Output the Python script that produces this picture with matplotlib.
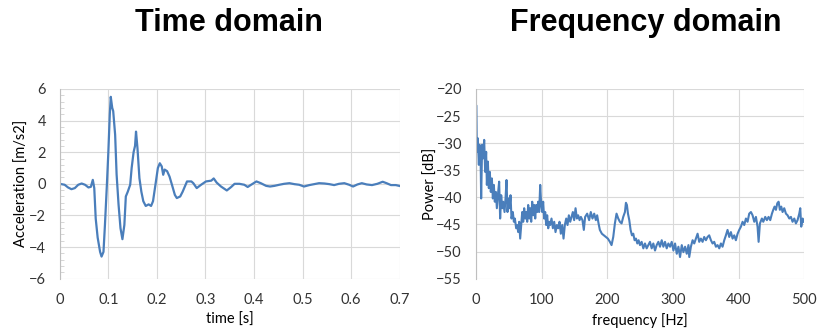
import numpy as np
import matplotlib
matplotlib.use("Agg")
import matplotlib.pyplot as plt
from matplotlib.ticker import MultipleLocator

# time domain trace
t_s = [0.0, 0.01, 0.017, 0.024, 0.031, 0.038, 0.045, 0.052, 0.059, 0.064,
       0.068, 0.071, 0.074, 0.078, 0.083, 0.086, 0.09, 0.093, 0.097, 0.1,
       0.103, 0.105, 0.108, 0.11, 0.114, 0.117, 0.121, 0.125, 0.129, 0.133,
       0.136, 0.14, 0.145, 0.148, 0.152, 0.155, 0.157, 0.16, 0.164, 0.168,
       0.172, 0.177, 0.183, 0.188, 0.192, 0.197, 0.202, 0.206, 0.21, 0.213,
       0.216, 0.221, 0.226, 0.231, 0.237, 0.241, 0.248, 0.253, 0.262, 0.271,
       0.275, 0.282, 0.291, 0.301, 0.312, 0.317, 0.323, 0.332, 0.344, 0.353,
       0.36, 0.37, 0.38, 0.387, 0.394, 0.405, 0.414, 0.425, 0.433, 0.442,
       0.452, 0.462, 0.473, 0.483, 0.493, 0.503, 0.514, 0.524, 0.534, 0.545,
       0.555, 0.565, 0.575, 0.586, 0.596, 0.604, 0.613, 0.622, 0.632, 0.643,
       0.654, 0.665, 0.673, 0.682, 0.692, 0.699]
accel = [0.0, -0.06, -0.23, -0.34, -0.27, -0.06, 0.02, -0.06, -0.23, -0.19,
         0.25, -0.27, -2.2, -3.4, -4.3, -4.6, -4.3, -2.6, -0.06, 2.0,
         4.4, 5.5, 4.8, 4.6, 3.1, 0.6, -1.3, -2.8, -3.5, -2.6,
         -0.8, -0.5, -0.06, 1.0, 2.0, 2.4, 3.3, 2.25, 0.36, -0.5,
         -1.1, -1.4, -1.3, -1.4, -1.1, -0.06, 1.0, 1.3, 1.1, 0.57,
         0.9, 0.8, 0.46, -0.06, -0.7, -0.9, -0.8, -0.5, 0.15, 0.15,
         0.04, -0.27, -0.06, 0.15, 0.2, 0.34, 0.08, -0.17, -0.42, -0.2,
         0.0, 0.0, -0.06, -0.2, -0.06, 0.15, 0.04, -0.13, -0.17, -0.13,
         -0.06, 0.0, 0.04, -0.02, -0.06, -0.17, -0.08, -0.02, 0.04, 0.02,
         -0.02, -0.08, 0.0, 0.04, -0.06, -0.17, -0.04, 0.04, -0.04, -0.08,
         0.0, 0.13, 0.04, -0.08, -0.08, -0.13]

# spectrum
freq_hz = [0, 0.5, 1.5, 3, 4.6, 5.6, 7.1, 8.1, 9.6, 11.2, 12.7, 14.2, 15.7,
           16.8, 18.3, 19.8, 21.3, 22.8, 24.4, 25.9, 27.4, 28.9, 30.5, 32,
           34, 35.5, 37, 38.6, 40.1, 41.6, 43.7, 45.2, 46.7, 48.2, 49.7,
           51.3, 52.8, 54.3, 56.3, 57.9, 59.4, 61.4, 62.9, 64.5, 66, 67.5,
           69, 70.6, 72.1, 73.6, 75.1, 76.6, 78.2, 79.7, 81.2, 82.7, 84.3,
           85.8, 87.3, 88.8, 90.4, 91.9, 93.4, 94.9, 96.4, 98, 99.5, 101,
           102.5, 104, 105.6, 107.1, 108.6, 110.2, 111.7, 113.2, 115.2,
           117.3, 119.3, 121.3, 123.4, 125.4, 127.4, 129.4, 131.5, 133.5,
           135.5, 137.6, 139.6, 141.6, 143.7, 145.7, 147.7, 149.7, 151.8,
           153.8, 155.8, 157.9, 159.9, 162.3, 164.4, 166.4, 169.5, 172.5,
           175, 177.6, 180.2, 182.7, 184.7, 186.8, 188.8, 191.9, 194.9, 198,
           201, 204.1, 206.6, 209.2, 211.7, 214.2, 216.8, 219.3, 221.9,
           224.4, 227, 228.5, 230, 231.6, 233.6, 235.6, 237.7, 239.7, 241.7,
           243.8, 245.8, 247.8, 249.9, 252.4, 255, 257.5, 260.1, 262.6,
           265.1, 267.7, 270.2, 272.8, 275.3, 277.9, 280.4, 283, 285.5, 288,
           290.6, 293.1, 295.7, 298.2, 300.8, 303.3, 305.9, 308.4, 310.9,
           313.5, 316, 318.6, 321.1, 323.7, 324.9, 327.4, 330, 332.5, 335,
           337.6, 340.1, 342.6, 345.2, 347.7, 350.3, 352.8, 355.3, 357.9,
           360.4, 362.9, 365.5, 368, 370.6, 373.1, 375.6, 378.2, 380.7,
           383.2, 385.8, 388.3, 390.9, 393.4, 395.9, 398.5, 401, 403.6,
           406.1, 408.6, 411.2, 413.7, 416.2, 418.8, 421.3, 423.9, 426.4,
           428.9, 430.5, 432.5, 435.5, 437.6, 440.6, 443.1, 445.7, 448.2,
           450.8, 452.8, 454.8, 456.9, 458.9, 460.9, 462.9, 465, 467, 469.5,
           472.1, 474.6, 477.2, 479.7, 482.2, 484.8, 487.3, 489.8, 492.4,
           493.9, 495.4, 497.5, 499]
power_db = [-37.7, -23, -31.6, -29.1, -34, -30.3, -31.6, -40.2, -30.3, -32.8,
            -29.4, -35.3, -31.6, -37.7, -33.4, -38.3, -35.3, -39, -36.5,
            -40.2, -37.7, -40.8, -39, -42, -39, -37.1, -43.9, -39.6, -42,
            -40.8, -42.7, -40.2, -36.8, -42.7, -40.2, -42, -39.6, -43.9,
            -42.7, -44.5, -43.9, -45.7, -45.1, -46.4, -44.5, -47.6, -45.1,
            -42.7, -44.5, -42, -43.9, -42.7, -44.5, -41.4, -43.9, -42, -44.5,
            -40.8, -43.3, -41.4, -43.9, -41.4, -42.7, -40.8, -42.7, -37.7,
            -41.4, -42.7, -40.8, -43.9, -42.7, -45.1, -43.3, -45.7, -44.5,
            -45.1, -43.9, -45.7, -44.5, -46.4, -45.1, -45.7, -44.5, -46.7,
            -45.1, -47.6, -45.1, -43.9, -45.1, -43.3, -44.5, -43.6, -42.7,
            -44.2, -42, -43.9, -43.3, -44.2, -43.6, -44.2, -46, -43.6, -43,
            -44.2, -42.7, -43.9, -43, -44.2, -43.3, -44.8, -46, -46.7, -47,
            -47.3, -47.6, -48.2, -48.8, -47.3, -44.8, -43, -43.9, -44.5,
            -44.8, -43.6, -42.7, -41, -41.4, -43, -44.2, -46, -47, -46.7,
            -47.9, -47.6, -48.5, -47.9, -48.8, -48.2, -49.4, -48.5, -49.4,
            -48.8, -48.2, -49.4, -48.5, -49.8, -48.8, -48.2, -49.1, -47.9,
            -49.1, -48.2, -49.4, -48.5, -49.1, -48.2, -49.8, -48.5, -50.4,
            -49.1, -51, -48.8, -50.1, -49.1, -50.4, -48.8, -51, -49.1, -47.9,
            -48.5, -47.6, -46.7, -48.2, -47.6, -48.2, -47.3, -47.9, -47.3,
            -47, -47.9, -48.5, -48.2, -49.1, -48.8, -49.4, -48.5, -49.1,
            -47.9, -47, -46, -47.3, -46.4, -47.6, -47, -47.9, -46.7, -46,
            -45.4, -44.5, -45.1, -43.9, -44.5, -43, -42.7, -43.3, -44.5,
            -43.6, -45.4, -48.2, -44.8, -43.9, -44.5, -43.6, -44.2, -43.6,
            -44.2, -43, -42.3, -41.7, -42.3, -41.1, -40.8, -42.3, -41.7,
            -42.7, -42, -43, -43.3, -43.9, -43.6, -44.5, -43.9, -44.8, -44.2,
            -43, -42, -45.4, -43.9, -44.5]

line_color = "#4a7ebb"
grid_color = "#d9d9d9"
tick_font = "Lato"

fig = plt.figure(figsize=(8.19, 3.33), dpi=100)
ax1 = fig.add_axes([0.073, 0.163, 0.415, 0.57])
ax2 = fig.add_axes([0.581, 0.163, 0.401, 0.57])


def style_axes(ax):
    for side in ["top", "right", "bottom"]:
        ax.spines[side].set_visible(False)
    ax.spines["left"].set_color("#bfbfbf")
    ax.grid(True, color=grid_color, linewidth=0.8)
    ax.set_axisbelow(True)
    ax.tick_params(length=0, labelsize=10.5, colors="#333333", pad=10)
    ax.tick_params(axis="y", which="minor", direction="in", length=3,
                   color="#d0d0d0")
    for lab in ax.get_xticklabels() + ax.get_yticklabels():
        lab.set_fontfamily(tick_font)


ax1.plot(t_s, accel, color=line_color, linewidth=1.6)
ax1.set_xlim(0, 0.7)
ax1.set_ylim(-6, 6)
ax1.yaxis.set_major_locator(MultipleLocator(2))
ax1.yaxis.set_minor_locator(MultipleLocator(0.4))
ax1.set_xticks(np.arange(0, 0.71, 0.1))
ax1.set_xticklabels(["0", "0.1", "0.2", "0.3", "0.4", "0.5", "0.6", "0.7"])
style_axes(ax1)
ax1.set_xlabel("time [s]", fontsize=10.5, family=tick_font)
ax1.set_ylabel("Acceleration [m/s2]", fontsize=10.5, family=tick_font)
ax1.xaxis.set_label_coords(0.5, -0.18)
ax1.yaxis.set_label_coords(-0.09, 0.5)

ax2.plot(freq_hz, power_db, color=line_color, linewidth=1.5)
ax2.set_xlim(0, 500)
ax2.set_ylim(-55, -20)
ax2.xaxis.set_major_locator(MultipleLocator(100))
ax2.yaxis.set_major_locator(MultipleLocator(5))
style_axes(ax2)
ax2.set_xlabel("frequency [Hz]", fontsize=10.5, family=tick_font)
ax2.set_ylabel("Power [dB]", fontsize=10.5, family=tick_font)
ax2.xaxis.set_label_coords(0.5, -0.18)
ax2.yaxis.set_label_coords(-0.115, 0.5)

fig.text(0.279, 0.93, "Time domain", ha="center", va="center", fontsize=22,
         fontweight="bold", family="Liberation Sans")
fig.text(0.789, 0.93, "Frequency domain", ha="center", va="center",
         fontsize=22, fontweight="bold", family="Liberation Sans")

fig.savefig("out.png", dpi=100)
